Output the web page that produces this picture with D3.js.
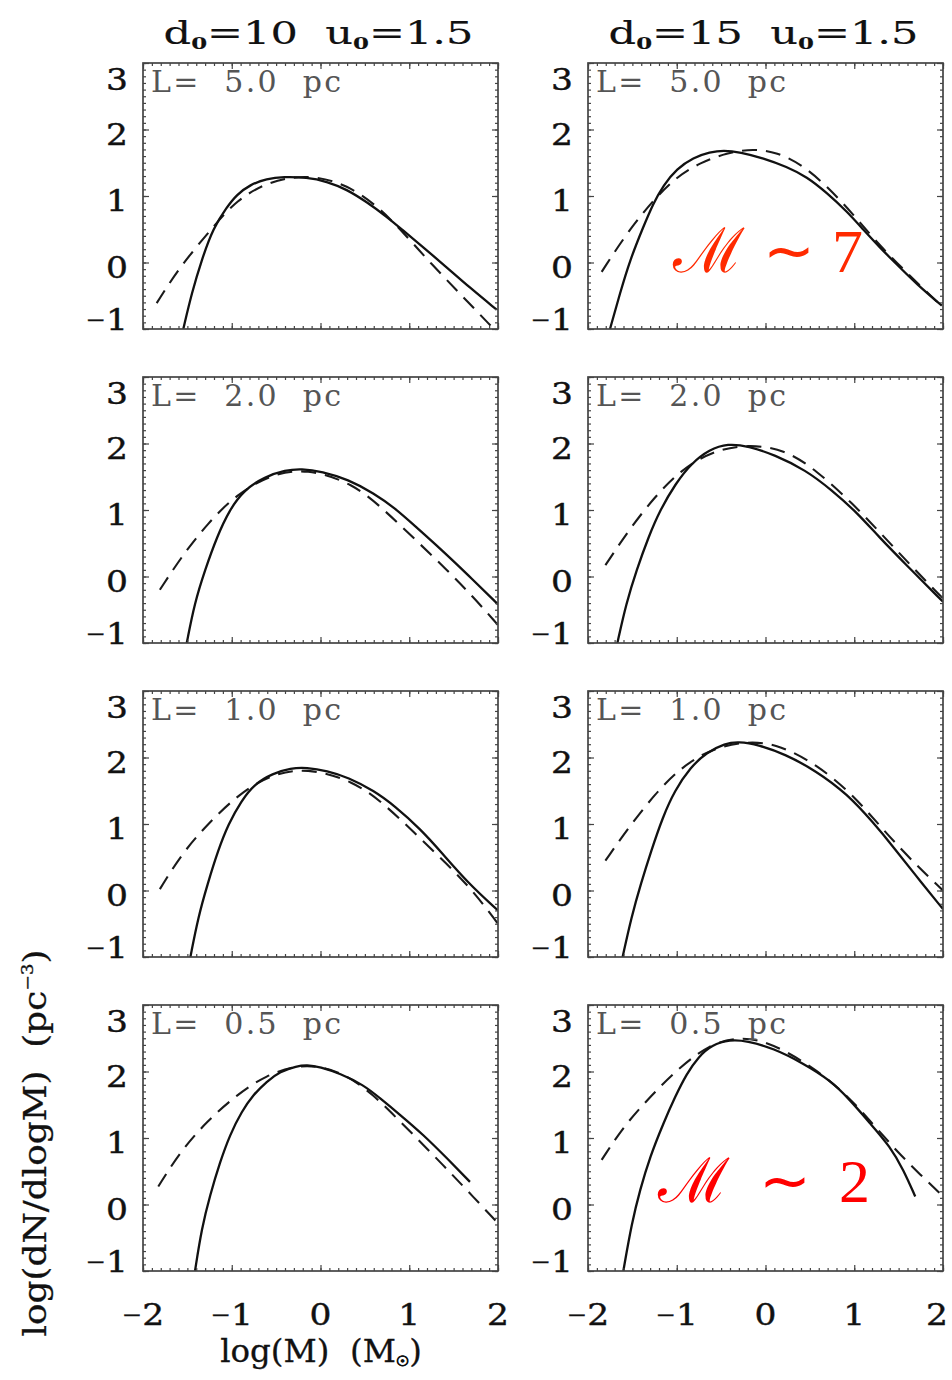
<!DOCTYPE html>
<html><head><meta charset="utf-8">
<script src="https://cdn.jsdelivr.net/npm/d3@7"></script>
<style>body{margin:0;background:#fff}svg text{white-space:pre}</style>
</head><body>
<svg id="c" width="952" height="1380" xmlns="http://www.w3.org/2000/svg"></svg>
<script>
// ---- data ----
const xDomain = [-2, 2];
const yDomain = [-1, 3];
const xTicks = [-2, -1, 0, 1, 2];
const yTicks = [-1, 0, 1, 2, 3];
const xMinor = d3.range(-20, 21).map(i => i / 10);
const yMinor = d3.range(-10, 31).map(i => i / 10);
const columnD0 = ["10", "15"];
const columnU0 = ["1.5", "1.5"];
const rowLengths = ["5.0", "2.0", "1.0", "0.5"];
const machLabels = ["7", "2"];

// d0 = 10 column
const solid10_L50 = [[-1.546,-1],[-1.451,-0.46],[-1.339,0.04],[-1.208,0.52],[-1.057,0.83],[-0.944,1.02],[-0.794,1.17],[-0.606,1.26],[-0.418,1.29],[-0.155,1.28],[0.07,1.22],[0.295,1.1],[0.52,0.91],[0.745,0.69],[0.915,0.5],[1.158,0.23],[1.42,-0.07],[1.684,-0.38],[1.985,-0.71]];
const dash10_L50  = [[-1.846,-0.61],[-1.583,-0.06],[-1.208,0.54],[-0.944,0.94],[-0.606,1.2],[-0.306,1.29],[-0.043,1.29],[0.295,1.17],[0.632,0.86],[0.9,0.5],[1.233,0.0],[1.608,-0.52],[1.946,-0.99]];
const solid10_L20 = [[-1.507,-1],[-1.419,-0.4],[-1.301,0.1],[-1.166,0.6],[-1.026,1.0],[-0.862,1.3],[-0.628,1.5],[-0.393,1.6],[-0.217,1.62],[0.017,1.58],[0.31,1.46],[0.603,1.25],[0.837,1.03],[1.072,0.75],[1.365,0.4],[1.657,0.03],[2.0,-0.42]];
const dash10_L20  = [[-1.81,-0.2],[-1.565,0.3],[-1.272,0.8],[-0.95,1.23],[-0.569,1.53],[-0.159,1.63],[0.369,1.4],[0.72,1.0],[1.072,0.55],[1.423,0.1],[1.716,-0.3],[2.0,-0.73]];
const solid10_L10 = [[-1.466,-1],[-1.378,-0.4],[-1.272,0.1],[-1.155,0.6],[-1.038,1.0],[-0.891,1.35],[-0.745,1.6],[-0.54,1.76],[-0.335,1.84],[-0.159,1.85],[0.075,1.8],[0.31,1.7],[0.603,1.5],[0.837,1.27],[1.13,0.92],[1.365,0.57],[1.657,0.12],[2.0,-0.3]];
const dash10_L10  = [[-1.81,0.02],[-1.565,0.55],[-1.272,1.0],[-0.92,1.45],[-0.569,1.74],[-0.159,1.85],[0.369,1.65],[0.72,1.3],[1.072,0.85],[1.423,0.4],[1.716,0.0],[2.0,-0.5]];
const solid10_L05 = [[-1.414,-1],[-1.339,-0.36],[-1.245,0.14],[-1.132,0.64],[-1.02,1.05],[-0.888,1.4],[-0.757,1.65],[-0.606,1.85],[-0.456,2.0],[-0.268,2.08],[-0.155,2.1],[-0.006,2.07],[0.22,1.97],[0.482,1.8],[0.67,1.6],[0.896,1.35],[1.158,1.05],[1.422,0.7],[1.684,0.34]];
const dash10_L05  = [[-1.828,0.27],[-1.583,0.79],[-1.282,1.25],[-0.944,1.65],[-0.606,1.95],[-0.268,2.09],[-0.006,2.08],[0.295,1.95],[0.595,1.65],[0.858,1.3],[1.12,0.95],[1.383,0.59],[1.647,0.22],[1.985,-0.26]];

// d0 = 15 column
const solid15_L50 = [[-1.752,-1],[-1.639,-0.46],[-1.526,0.04],[-1.376,0.54],[-1.264,0.89],[-1.151,1.16],[-1.0,1.41],[-0.813,1.58],[-0.625,1.66],[-0.474,1.69],[-0.286,1.66],[-0.024,1.57],[0.24,1.44],[0.465,1.29],[0.69,1.05],[0.916,0.77],[1.104,0.49],[1.292,0.22],[1.48,-0.03],[1.706,-0.33],[1.987,-0.65]];
const dash15_L50  = [[-1.846,-0.14],[-1.564,0.44],[-1.264,0.94],[-1.0,1.29],[-0.737,1.5],[-0.436,1.65],[-0.136,1.71],[0.127,1.66],[0.427,1.46],[0.728,1.1],[0.99,0.72],[1.217,0.36],[1.517,-0.06],[1.987,-0.66]];
const solid15_L20 = [[-1.669,-1],[-1.569,-0.4],[-1.452,0.1],[-1.317,0.6],[-1.188,1.0],[-1.012,1.4],[-0.837,1.7],[-0.631,1.91],[-0.426,2.0],[-0.192,1.96],[0.101,1.83],[0.453,1.6],[0.746,1.3],[1.04,0.95],[1.274,0.6],[1.567,0.2],[2.0,-0.38]];
const dash15_L20  = [[-1.804,0.17],[-1.54,0.7],[-1.247,1.2],[-0.954,1.6],[-0.602,1.89],[-0.192,1.99],[0.219,1.91],[0.57,1.6],[0.981,1.1],[1.333,0.6],[1.684,0.1],[2.0,-0.33]];
const solid15_L10 = [[-1.61,-1],[-1.511,-0.4],[-1.405,0.1],[-1.287,0.6],[-1.159,1.1],[-1.024,1.5],[-0.848,1.85],[-0.66,2.08],[-0.455,2.21],[-0.309,2.24],[-0.074,2.19],[0.219,2.05],[0.57,1.8],[0.922,1.45],[1.215,1.02],[1.45,0.64],[1.684,0.24],[2.0,-0.28]];
const dash15_L10  = [[-1.804,0.45],[-1.54,0.95],[-1.247,1.45],[-0.954,1.85],[-0.602,2.14],[-0.192,2.25],[0.16,2.19],[0.57,1.9],[0.981,1.45],[1.333,0.9],[1.684,0.4],[2.0,0.0]];
const solid15_L05 = [[-1.602,-1],[-1.507,-0.28],[-1.414,0.22],[-1.301,0.72],[-1.151,1.22],[-1.019,1.62],[-0.887,1.97],[-0.756,2.22],[-0.606,2.4],[-0.399,2.48],[-0.211,2.46],[0.089,2.35],[0.427,2.12],[0.728,1.87],[0.954,1.57],[1.179,1.22],[1.405,0.87],[1.555,0.52],[1.687,0.12]];
const dash15_L05  = [[-1.846,0.67],[-1.602,1.17],[-1.301,1.62],[-0.963,2.07],[-0.624,2.41],[-0.324,2.51],[-0.061,2.48],[0.24,2.3],[0.578,2.02],[0.916,1.65],[1.217,1.2],[1.48,0.8],[1.743,0.45],[1.987,0.14]];

const solidSeries = [[solid10_L50, solid10_L20, solid10_L10, solid10_L05],
                     [solid15_L50, solid15_L20, solid15_L10, solid15_L05]];
const dashSeries  = [[dash10_L50, dash10_L20, dash10_L10, dash10_L05],
                     [dash15_L50, dash15_L20, dash15_L10, dash15_L05]];

// ---- layout ----
const colX = [143, 588], rowY = [63, 377, 691, 1005];
const W = 355, H = 266;
const FONT = "'DejaVu Serif', serif";
const svg = d3.select("#c");
const defs = svg.append("defs");

// number label with a shorter minus sign, slightly widened glyphs
function numLabel(g, v, px, py, anchor) {
  const t = g.append("text").attr("transform", `translate(${px},${py}) scale(1.15,1)`)
    .attr("text-anchor", anchor).attr("font-family", FONT).attr("font-size", 30)
    .attr("fill", "#111").attr("stroke", "#111").attr("stroke-width", 0.4);
  if (v < 0) {
    t.append("tspan").attr("font-size", 21).attr("dy", -3).text("\u2212");
    t.append("tspan").attr("dy", 3).text(String(Math.abs(v)));
  } else {
    t.text(String(v));
  }
  return t;
}
// stretch a text horizontally to a target width
function fitWidth(t, cx, cy, width, rot) {
  const w = t.node().getComputedTextLength();
  const s = width / w;
  t.attr("transform", `translate(${cx},${cy})${rot ? " rotate(" + rot + ")" : ""} scale(${s},1)`);
}

for (let c = 0; c < 2; c++) {
  for (let r = 0; r < 4; r++) {
    const x = d3.scaleLinear().domain(xDomain).range([colX[c], colX[c] + W]);
    const y = d3.scaleLinear().domain(yDomain).range([rowY[r] + H, rowY[r]]);
    const g = svg.append("g");
    const id = `clip${c}${r}`;
    defs.append("clipPath").attr("id", id).append("rect")
      .attr("x", x(-2)).attr("y", y(3)).attr("width", W).attr("height", H);

    const line = d3.line().x(d => x(d[0])).y(d => y(d[1])).curve(d3.curveBasis);
    g.append("path").datum(dashSeries[c][r]).attr("d", line)
      .attr("fill", "none").attr("stroke", "#1a1a1a").attr("stroke-width", 2.1)
      .attr("stroke-dasharray", "15,9").attr("clip-path", `url(#${id})`);
    g.append("path").datum(solidSeries[c][r]).attr("d", line)
      .attr("fill", "none").attr("stroke", "#111").attr("stroke-width", 2.3)
      .attr("clip-path", `url(#${id})`);

    // axes: ticks inward on all four sides
    const axes = [
      [d3.axisBottom(x), `translate(0,${y(-1)})`, xMinor, xTicks],
      [d3.axisTop(x), `translate(0,${y(3)})`, xMinor, xTicks],
      [d3.axisLeft(y), `translate(${x(-2)},0)`, yMinor, yTicks],
      [d3.axisRight(y), `translate(${x(2)},0)`, yMinor, yTicks]
    ];
    axes.forEach(([ax, tr, minor, major]) => {
      const a1 = g.append("g").attr("transform", tr)
        .call(ax.tickValues(minor).tickSize(-3).tickFormat(""));
      a1.select(".domain").remove();
      const a2 = g.append("g").attr("transform", tr)
        .call(ax.tickValues(major).tickSize(-6).tickFormat(""));
      a2.select(".domain").remove();
    });
    g.selectAll(".tick line").attr("stroke", "#444").attr("stroke-width", 1.2);

    g.append("rect").attr("x", x(-2)).attr("y", y(3)).attr("width", W).attr("height", H)
      .attr("fill", "none").attr("stroke", "#444").attr("stroke-width", 1.7);

    // y tick labels
    yTicks.forEach(v => {
      const cy = Math.max(y(3) + 16, Math.min(y(-1) - 10, y(v) + 4));
      numLabel(g, v, x(-2) - 15, cy + 11, "end");
    });
    // x tick labels only on the bottom row (kept inside the page edge)
    if (r === 3) {
      xTicks.forEach(v => numLabel(g, v, Math.min(x(v), 937), 1325, "middle"));
    }
    // panel label
    g.append("text").attr("x", x(-2) + 8).attr("y", y(3) + 29)
      .attr("font-family", FONT).attr("font-size", 30).attr("fill", "#555")
      .attr("textLength", 190).attr("lengthAdjust", "spacing")
      .text(`L=  ${rowLengths[r]}  pc`);
  }
}

// column titles
columnD0.forEach((d0, c) => {
  const cx = colX[c] + W / 2 - 2;
  const t = svg.append("text").attr("text-anchor", "middle")
    .attr("font-family", FONT).attr("font-size", 32).attr("fill", "#111")
    .attr("stroke", "#111").attr("stroke-width", 0.15);
  t.append("tspan").text("d");
  t.append("tspan").attr("font-size", 17).attr("font-weight", "bold").attr("dy", 5).text("0");
  t.append("tspan").attr("dy", -5).text(`=${d0}  u`);
  t.append("tspan").attr("font-size", 17).attr("font-weight", "bold").attr("dy", 5).text("0");
  t.append("tspan").attr("dy", -5).text(`=${columnU0[c]}`);
  fitWidth(t, cx, 44, 310);
});

// Mach number annotations
const machPos = [[673, 272, 190, "#ff2a00"], [658, 1202, 212, "#ff0000"]];
machLabels.forEach((m, i) => {
  const [mx, my, len, col] = machPos[i];
  const t = svg.append("text").attr("x", mx).attr("y", my)
    .attr("font-family", "'DejaVu Serif', serif").attr("font-size", 62).attr("fill", col)
    .attr("textLength", len).attr("lengthAdjust", "spacing");
  t.append("tspan").text("\u2133");
  t.append("tspan").attr("font-family", "'Liberation Serif', serif").text(` \u223C ${m}`);
});

// axis titles
const xl = svg.append("text").attr("text-anchor", "middle")
  .attr("font-family", FONT).attr("font-size", 31).attr("fill", "#111")
  .attr("stroke", "#111").attr("stroke-width", 0.3);
xl.append("tspan").text("log(M)  (M");
xl.append("tspan").attr("font-size", 14).attr("font-weight", "bold").attr("dy", 4).text("\u2609");
xl.append("tspan").attr("dy", -4).text(")");
fitWidth(xl, 321, 1362, 202);

const yl = svg.append("text").attr("text-anchor", "middle")
  .attr("font-family", FONT).attr("font-size", 31).attr("fill", "#111")
  .attr("stroke", "#111").attr("stroke-width", 0.3);
yl.append("tspan").text("log(dN/dlogM)  (pc");
yl.append("tspan").attr("font-size", 16).attr("dy", -13).text("\u22123");
yl.append("tspan").attr("font-size", 31).attr("dy", 13).text(")");
fitWidth(yl, 46, 1143, 387, -90);
</script>
</body></html>
